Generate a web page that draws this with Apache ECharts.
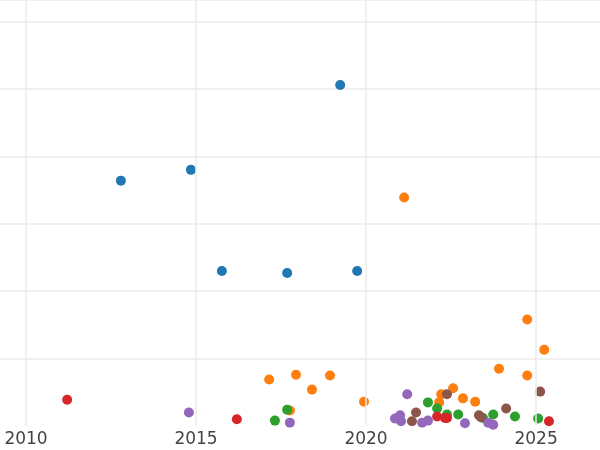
<!DOCTYPE html>
<html>
<head>
<meta charset="utf-8">
<script src="https://cdn.jsdelivr.net/npm/echarts@6/dist/echarts.min.js"></script>
<style>html,body{margin:0;padding:0;background:#fff}#chart{width:600px;height:450px}</style>
</head>
<body>
<div id="chart"></div>
<script>
var xTicks = [2010, 2015, 2020, 2025]
var blue = [[2012.79,3.64],[2014.85,3.80],[2019.24,5.06],[2015.76,2.30],[2017.68,2.27],[2019.74,2.30]]
var orange = [[2021.12,3.39],[2024.74,1.58],[2025.24,1.13],[2017.15,0.69],[2017.94,0.76],[2018.41,0.54],[2018.94,0.75],[2019.94,0.36],[2017.76,0.23],[2023.91,0.85],[2024.74,0.75],[2022.56,0.56],[2022.21,0.47],[2022.15,0.35],[2022.85,0.41],[2023.21,0.36]]
var green = [[2021.82,0.35],[2022.09,0.26],[2022.38,0.17],[2022.71,0.17],[2023.44,0.12],[2023.74,0.17],[2024.38,0.14],[2025.06,0.11],[2017.32,0.08],[2017.68,0.24]]
var red = [[2011.21,0.39],[2016.2,0.10],[2022.09,0.14],[2022.32,0.12],[2022.38,0.12],[2025.38,0.07]]
var purple = [[2014.79,0.20],[2017.76,0.05],[2021.21,0.47],[2020.85,0.11],[2021.0,0.16],[2021.03,0.07],[2021.65,0.05],[2021.82,0.08],[2022.91,0.04],[2023.59,0.05],[2023.74,0.02]]
var brown = [[2022.38,0.47],[2025.12,0.51],[2021.47,0.20],[2021.35,0.07],[2023.32,0.16],[2024.12,0.26],[2023.38,0.13]]

var chart = echarts.init(document.getElementById('chart'))
function sc(data, color) {
    return { type: 'scatter', data: data, symbolSize: 10, clip: true, itemStyle: { color: color, opacity: 1 }, z: 3 }
}
var series = [sc(blue,'#1f77b4'), sc(orange,'#ff7f0e'), sc(green,'#2ca02c'), sc(red,'#d62728'), sc(purple,'#9467bd'), sc(brown,'#8c564b')]
series[0].markLine = {
    silent: true, symbol: 'none', label: { show: false },
    lineStyle: { color: '#ebebeb', width: 1.5, type: 'solid' },
    data: xTicks.map(function (v) { return { xAxis: v } })
}
chart.setOption({
    animation: false,
    grid: { left: 0, right: 0, top: 0, bottom: 24 },
    xAxis: {
        type: 'value', min: 2009.235, max: 2026.88,
        axisLine: { show: false }, axisTick: { show: false }, splitLine: { show: false },
        axisLabel: {
            customValues: xTicks, fontFamily: 'DejaVu Sans', fontSize: 17, color: '#444', margin: 5,
            formatter: function (v) { return String(v) }
        }
    },
    yAxis: {
        type: 'value', min: 0, max: 6.32, interval: 1,
        axisLabel: { show: false }, axisLine: { show: false }, axisTick: { show: false },
        splitLine: { showMinLine: false, lineStyle: { color: '#ebebeb', width: 1.5 } }
    },
    series: series
})
</script>
</body>
</html>
